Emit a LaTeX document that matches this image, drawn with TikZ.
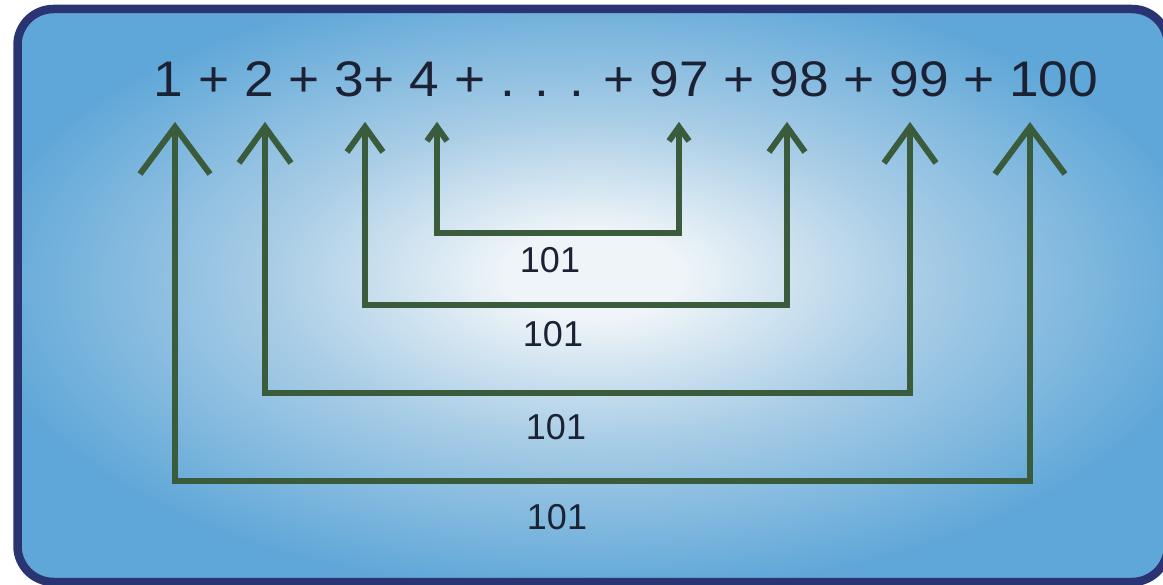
\documentclass[tikz,border=0pt]{standalone}
\usepackage{fontspec}
\setmainfont{Liberation Sans}
\newfontfamily\widefont[FakeStretch=1.065]{Liberation Sans}
\definecolor{framecol}{HTML}{2A3473}
\definecolor{arrowgreen}{HTML}{3B5B3D}
\definecolor{txt}{HTML}{1C2233}
\definecolor{bgin}{HTML}{EEF4F8}
\definecolor{bgmid}{HTML}{A9CDE6}
\definecolor{bgout}{HTML}{5FA7D8}
\pgfdeclareradialshading{bgshade}{\pgfpoint{0bp}{2bp}}{color(0bp)=(bgin); color(4bp)=(bgin); color(14bp)=(bgmid); color(27bp)=(bgout); color(50bp)=(bgout)}
\begin{document}
\begin{tikzpicture}[x=1pt,y=-1pt,
  conn/.style={draw=arrowgreen, line width=6pt, line join=miter, line cap=butt},
  sumtext/.style={font=\widefont\fontsize{50}{60}\selectfont, text=txt, inner sep=0pt},
  lbl/.style={font=\fontsize{36}{42}\selectfont, text=txt, inner sep=0pt}]
\useasboundingbox (0,0) rectangle (1163,585);
\shadedraw[shading=bgshade, draw=framecol, line width=8.5pt, rounded corners=36pt] (17.5,9) rectangle (1168,582);
\node[sumtext, anchor=base] (sum) at (626,97) {1 + 2 + 3+ 4 + . . . + 97 + 98 + 99 + 100};
\foreach \n/\xl/\xr/\yb/\yt/\dx/\dy/\lx/\ly in {
  1/175/1030/481/127/35/47/557/517,
  2/265/910/393/127/26/36/556/427,
  3/365/787/305/127/18/25/553/334,
  4/437/679/233/127/10/14/550/260}{
  \coordinate (tL\n) at (\xl,\yt);
  \coordinate (tR\n) at (\xr,\yt);
  \coordinate (bL\n) at (\xl,\yb);
  \coordinate (bR\n) at (\xr,\yb);
  \draw[conn] (tL\n) -- (bL\n) -- (bR\n) -- (tR\n);
  \draw[conn] (tL\n) ++(-\dx,\dy) -- (tL\n) -- ++(\dx,\dy);
  \draw[conn] (tR\n) ++(-\dx,\dy) -- (tR\n) -- ++(\dx,\dy);
  \node[lbl] (lab\n) at (\lx,\ly) {101};
}
\end{tikzpicture}
\end{document}
